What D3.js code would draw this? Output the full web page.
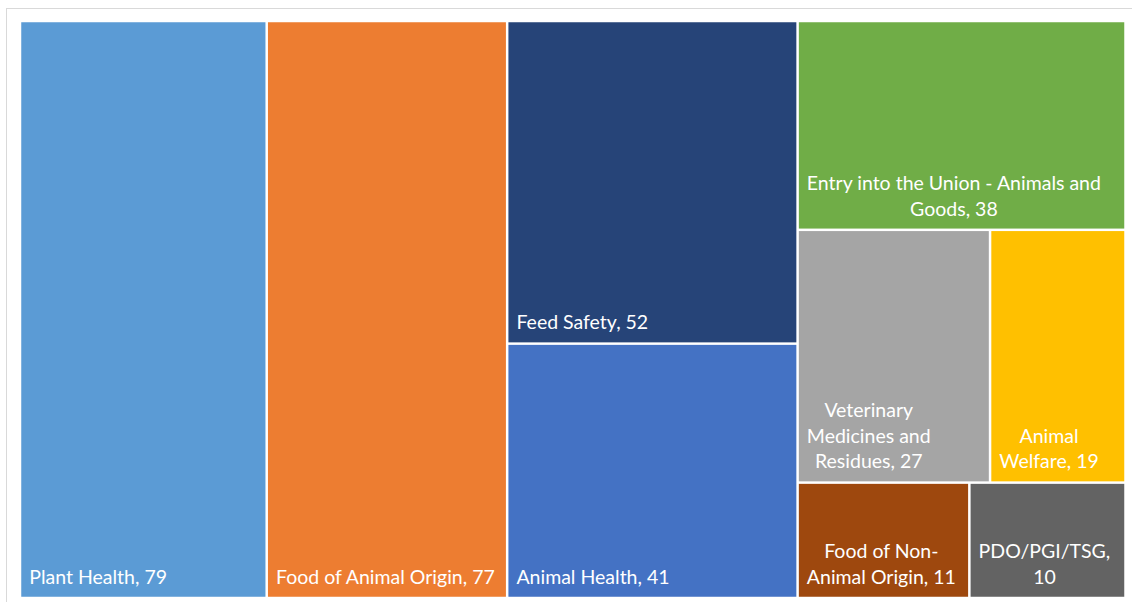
<!DOCTYPE html>
<html>
<head>
<meta charset="utf-8">
<script src="https://cdn.jsdelivr.net/npm/d3@7"></script>
<style>
  body { margin: 0; background: #fff; }
  #chart text { font-family: Lato, 'Open Sans', sans-serif; font-size: 19.5px; fill: #fff; }
</style>
</head>
<body>
<svg id="chart"></svg>
<script>
// categories and number of items, in the order Excel placed the tiles
const categories = [
  'Plant Health',
  'Food of Animal Origin',
  'Feed Safety',
  'Animal Health',
  'Entry into the Union - Animals and Goods',
  'Veterinary Medicines and Residues',
  'Animal Welfare',
  'Food of Non-Animal Origin',
  'PDO/PGI/TSG',
];
const counts = [79, 77, 52, 41, 38, 27, 19, 11, 10];
const colors = [
  '#5B9BD5', '#ED7D31', '#264478', '#4472C4', '#70AD47',
  '#A5A5A5', '#FFC000', '#9E480E', '#636363',
];
// how the tiles are grouped: 'h' = side by side, 'v' = stacked
const groups = ['h', 0, 1, ['v', 2, 3], ['v', 4, ['h', 5, 6], ['h', 7, 8]]];

const W = 1132, H = 602;
const plot = { left: 20, top: 21, width: 1105.5, height: 577 };
const gap = 1.25, pad = 8, lineH = 25.5, bottomPad = 13;

const svg = d3.select('#chart').attr('width', W).attr('height', H);

// chart frame
svg.append('rect')
  .attr('x', 6.5).attr('y', 8.5)
  .attr('width', W).attr('height', H)
  .attr('fill', '#fff')
  .attr('stroke', '#d9d9d9');

function toNode(item) {
  if (typeof item === 'number') {
    return { name: categories[item], value: counts[item], color: colors[item] };
  }
  return { dir: item[0], children: item.slice(1).map(toNode) };
}

const root = d3.hierarchy(toNode(groups)).sum(d => d.value || 0);

d3.treemap()
  .size([plot.width, plot.height])
  .tile((node, x0, y0, x1, y1) => {
    (node.data.dir === 'h' ? d3.treemapDice : d3.treemapSlice)(node, x0, y0, x1, y1);
  })(root);

const g = svg.append('g')
  .attr('transform', 'translate(' + plot.left + ',' + plot.top + ')');

const cell = g.selectAll('g.cell')
  .data(root.leaves())
  .enter()
  .append('g')
  .attr('class', 'cell');

cell.append('rect')
  .attr('x', d => d.x0 + gap)
  .attr('y', d => d.y0 + gap)
  .attr('width', d => d.x1 - d.x0 - 2 * gap)
  .attr('height', d => d.y1 - d.y0 - 2 * gap)
  .attr('fill', d => d.data.color);

// measuring text for wrapping
const probe = g.append('text').attr('visibility', 'hidden');
function measure(s) {
  probe.text(s);
  return probe.node().getComputedTextLength();
}

function wrap(label, maxW) {
  if (measure(label) <= maxW) return [label];
  // break on spaces, and after a hyphen inside a word
  const parts = [];
  label.replace(/([^\s-]*-(?=\S)|\S+)(\s*)/g, (m, t, sp) => parts.push({ t: t, sp: sp.length > 0 }));
  const lines = [];
  let line = '';
  let prevSp = false;
  parts.forEach(p => {
    const cand = line ? line + (prevSp ? ' ' : '') + p.t : p.t;
    if (line && measure(cand) > maxW) {
      lines.push(line);
      line = p.t;
    } else {
      line = cand;
    }
    prevSp = p.sp;
  });
  if (line) lines.push(line);
  return lines;
}

cell.each(function (d) {
  const label = d.data.name + ', ' + d.data.value;
  const avail = d.x1 - d.x0 - 2 * gap - 2 * pad;
  const lines = wrap(label, avail);
  const text = d3.select(this).append('text');
  const bottom = d.y1 - gap - bottomPad;
  if (lines.length === 1) {
    text.append('tspan')
      .attr('x', d.x0 + gap + pad)
      .attr('y', bottom)
      .text(lines[0]);
  } else {
    const maxW = d3.max(lines, measure);
    const cx = d.x0 + gap + pad + maxW / 2;
    text.attr('text-anchor', 'middle')
      .selectAll('tspan')
      .data(lines)
      .enter()
      .append('tspan')
      .attr('x', cx)
      .attr('y', (l, i) => bottom - (lines.length - 1 - i) * lineH)
      .text(l => l);
  }
});
probe.remove();
</script>
</body>
</html>
